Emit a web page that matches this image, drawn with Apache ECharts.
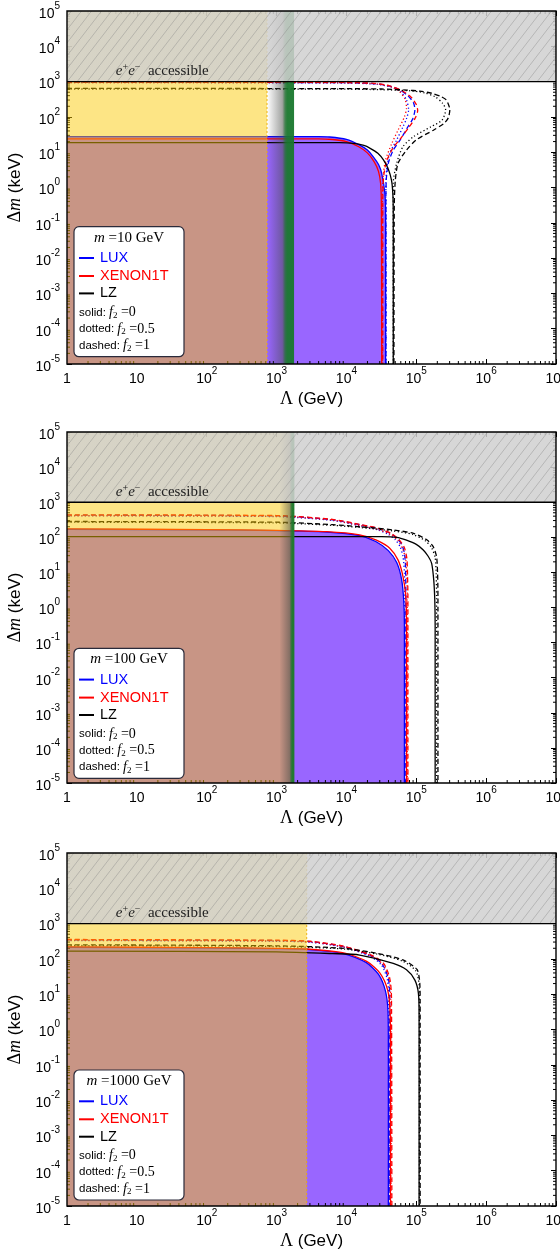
<!DOCTYPE html>
<html><head><meta charset="utf-8">
<script src="https://cdn.jsdelivr.net/npm/echarts@6/dist/echarts.min.js"></script>
<style>html,body{margin:0;padding:0;background:#fff}#c{width:560px;height:1255px}</style>
</head><body><div id="c"></div>
<script>
// ---------------- DATA ----------------
const panelMasses = [10, 100, 1000];           // m (GeV) for each panel
const xTickExponents = [0,1,2,3,4,5,6,7];      // Λ ticks 10^n GeV
const yTickExponents = [-5,-4,-3,-2,-1,0,1,2,3,4,5]; // Δm ticks 10^n keV
const accessibleDeltaM = 1000;                 // keV: e+e- accessible above this
const accessibleLabelAt = [5, 5, 5];           // Λ (GeV) where label starts
const yellowEdge = [730, 1750, 2700];          // GeV, right edge of yellow region
const lhcBand = [[730, 1320, 1780], [1100, 1620, 1800], null]; // GeV: fade start, green start, green end

// curves: [log10(Λ/GeV), log10(Δm/keV)], one list per panel (m=10, 100, 1000)
const LUX_solid_log10 = [
 [[0,1.44],[3.6,1.44],[3.76,1.43],[4.0,1.36],[4.19,1.20],[4.30,1.06],[4.385,0.87],[4.46,0.65],[4.505,0.40],[4.55,-0.16],[4.56,-0.8],[4.56,-5]],
 [[0,2.23],[2,2.21],[3,2.19],[3.72,2.15],[4.19,2.05],[4.42,1.88],[4.60,1.62],[4.72,1.28],[4.79,0.80],[4.82,0.2],[4.83,-0.5],[4.83,-5]],
 [[0,2.33],[2,2.31],[3,2.29],[3.43,2.27],[3.96,2.15],[4.28,1.90],[4.46,1.56],[4.56,1.08],[4.595,0.5],[4.60,-0.5],[4.60,-5]]
];
const XENON1T_solid_log10 = [
 [[0,1.38],[3.6,1.38],[3.8,1.36],[4.0,1.30],[4.17,1.16],[4.30,0.98],[4.40,0.72],[4.46,0.45],[4.49,0.1],[4.50,-0.5],[4.505,-5]],
 [[0,2.24],[2,2.22],[3,2.20],[3.72,2.16],[4.19,2.07],[4.43,1.92],[4.62,1.69],[4.74,1.35],[4.81,0.88],[4.85,0.3],[4.86,-0.5],[4.86,-5]],
 [[0,2.34],[2,2.32],[3,2.30],[3.43,2.28],[3.96,2.17],[4.29,1.93],[4.48,1.60],[4.59,1.12],[4.625,0.5],[4.63,-0.5],[4.63,-5]]
];
const LZ_solid_log10 = [
 [[0,1.27],[3.9,1.27],[4.1,1.25],[4.25,1.19],[4.34,1.11],[4.45,0.97],[4.53,0.78],[4.60,0.52],[4.645,0.21],[4.665,-0.2],[4.67,-0.8],[4.67,-5]],
 [[0,2.02],[4.5,2.02],[4.72,2.00],[4.86,1.92],[5.0,1.80],[5.10,1.64],[5.17,1.46],[5.22,1.26],[5.25,0.78],[5.265,0.2],[5.27,-0.5],[5.27,-5]],
 [[0,2.22],[3,2.20],[3.8,2.15],[4.19,2.11],[4.67,1.87],[4.86,1.69],[4.98,1.40],[5.03,1.03],[5.04,0.4],[5.04,-5]]
];
const LUX_dotted_log10 = [
 [[0,2.97],[4.0,2.96],[4.45,2.92],[4.65,2.84],[4.77,2.72],[4.86,2.48],[4.89,2.20],[4.86,1.95],[4.81,1.72],[4.72,1.35],[4.62,0.97],[4.575,0.50],[4.565,0],[4.565,-5]],
 [[0,2.61],[3,2.59],[3.8,2.48],[4.19,2.33],[4.45,2.21],[4.60,2.08],[4.70,1.93],[4.77,1.72],[4.81,1.45],[4.83,1.0],[4.835,0.3],[4.835,-5]],
 [[0,2.52],[3,2.50],[3.48,2.47],[3.96,2.33],[4.33,2.08],[4.50,1.83],[4.585,1.42],[4.605,0.9],[4.61,-5]]
];
const XENON1T_dotted_log10 = [
 [[0,2.975],[4.0,2.965],[4.45,2.93],[4.64,2.85],[4.75,2.74],[4.84,2.50],[4.86,2.25],[4.83,2.00],[4.74,1.63],[4.65,1.25],[4.56,0.78],[4.525,0.3],[4.515,-0.3],[4.515,-5]],
 [[0,2.62],[3,2.60],[3.8,2.49],[4.19,2.34],[4.46,2.22],[4.63,2.08],[4.74,1.90],[4.81,1.65],[4.85,1.35],[4.865,0.9],[4.87,0.3],[4.87,-5]],
 [[0,2.53],[3,2.51],[3.48,2.48],[3.96,2.34],[4.34,2.10],[4.52,1.85],[4.61,1.42],[4.635,0.9],[4.64,-5]]
];
const LZ_dotted_log10 = [
 [[0,2.79],[4.0,2.785],[4.5,2.77],[4.91,2.74],[5.12,2.68],[5.27,2.57],[5.38,2.38],[5.42,2.20],[5.37,1.91],[5.21,1.72],[4.96,1.44],[4.81,1.16],[4.72,0.69],[4.67,0.12],[4.67,-5]],
 [[0,2.43],[3,2.41],[3.8,2.34],[4.19,2.28],[4.67,2.18],[4.95,2.08],[5.13,1.90],[5.22,1.70],[5.27,1.42],[5.285,0.95],[5.29,0.3],[5.29,-5]],
 [[0,2.38],[3,2.35],[3.96,2.28],[4.43,2.14],[4.80,1.94],[4.99,1.67],[5.04,1.28],[5.045,0.8],[5.045,-5]]
];
const LUX_dashed_log10 = [
 [[0,2.98],[4.0,2.97],[4.4,2.94],[4.6,2.88],[4.75,2.78],[4.88,2.60],[4.96,2.40],[4.98,2.20],[4.95,1.95],[4.88,1.72],[4.77,1.35],[4.67,1.06],[4.60,0.69],[4.57,0.21],[4.565,-0.5],[4.565,-5]],
 [[0,2.63],[3,2.61],[3.8,2.50],[4.19,2.36],[4.45,2.25],[4.62,2.12],[4.72,1.98],[4.79,1.80],[4.83,1.55],[4.845,1.2],[4.85,0.6],[4.85,-5]],
 [[0,2.54],[3,2.52],[3.48,2.49],[3.96,2.35],[4.34,2.10],[4.51,1.86],[4.60,1.45],[4.62,0.9],[4.62,-5]]
];
const XENON1T_dashed_log10 = [
 [[0,2.985],[4.0,2.975],[4.4,2.95],[4.62,2.88],[4.78,2.76],[4.93,2.55],[5.00,2.35],[5.02,2.18],[4.98,1.95],[4.90,1.72],[4.78,1.40],[4.66,1.10],[4.57,0.72],[4.53,0.25],[4.52,-0.5],[4.52,-5]],
 [[0,2.64],[3,2.62],[3.8,2.51],[4.19,2.37],[4.47,2.25],[4.65,2.10],[4.76,1.92],[4.83,1.70],[4.865,1.40],[4.875,0.9],[4.88,0.3],[4.88,-5]],
 [[0,2.55],[3,2.53],[3.48,2.50],[3.96,2.36],[4.34,2.12],[4.53,1.88],[4.62,1.45],[4.645,0.9],[4.65,-5]]
];
const LZ_dashed_log10 = [
 [[0,2.81],[4.0,2.80],[4.5,2.79],[4.86,2.76],[5.05,2.73],[5.22,2.67],[5.35,2.58],[5.43,2.48],[5.48,2.20],[5.46,1.98],[5.40,1.82],[5.25,1.63],[5.0,1.35],[4.86,1.06],[4.74,0.69],[4.70,0.21],[4.685,-0.5],[4.68,-5]],
 [[0,2.45],[3,2.43],[3.8,2.36],[4.19,2.30],[4.67,2.21],[4.96,2.11],[5.15,1.93],[5.24,1.74],[5.29,1.45],[5.305,0.97],[5.31,0.3],[5.31,-5]],
 [[0,2.40],[3,2.37],[3.96,2.30],[4.43,2.16],[4.81,1.97],[5.01,1.70],[5.05,1.31],[5.055,0.8],[5.055,-5]]
];

// ---------------- BUILD ----------------
const P = v => Math.pow(10, v);
const toVals = arr => arr.map(p => [P(p[0]), P(p[1])]);
const XMIN = P(xTickExponents[0]), XMAX = P(xTickExponents[xTickExponents.length-1]);
const YMIN = P(yTickExponents[0]), YMAX = P(yTickExponents[yTickExponents.length-1]);

const experiments = [
  {name:'LUX', color:'#0000ff', solid:LUX_solid_log10, dotted:LUX_dotted_log10, dashed:LUX_dashed_log10},
  {name:'XENON1T', color:'#ff0000', solid:XENON1T_solid_log10, dotted:XENON1T_dotted_log10, dashed:XENON1T_dashed_log10},
  {name:'LZ', color:'#000000', solid:LZ_solid_log10, dotted:LZ_dotted_log10, dashed:LZ_dashed_log10}
];
const dashStyles = {solid:'solid', dotted:[1.2,2.4], dashed:[5,3]};

const gridBoxes = [
  {left:67, top:11, width:489, height:353},
  {left:67, top:432, width:489, height:351},
  {left:67, top:853, width:489, height:353}
];
const legendTops = [226.7, 648.3, 1070];

const SANS = 'Liberation Sans', SERIF = 'Liberation Serif';
const labRich = {
  b:{fontFamily:SANS, fontSize:14, lineHeight:20, verticalAlign:'bottom', color:'#000'},
  s:{fontFamily:SANS, fontSize:10, lineHeight:8, verticalAlign:'top', color:'#000'}
};
function expOf(v){ return Math.round(Math.log10(v)); }
function xLab(v){ const e = expOf(v); if (e===0) return '{b|1}'; if (e===1) return '{b|10}'; return '{b|10}{s|'+e+'}'; }
function yLab(v){ const e = expOf(v); return '{b|10}{s|'+e+'}'; }

function hatchCanvas(){
  const c = document.createElement('canvas'); c.width = 10; c.height = 13;
  const g = c.getContext('2d');
  g.fillStyle = 'rgba(209,209,209,0.86)'; g.fillRect(0,0,10,13);
  g.strokeStyle = 'rgba(135,135,135,0.6)'; g.lineWidth = 0.7;
  g.beginPath(); g.moveTo(-1,14.3); g.lineTo(11,-1.3); g.stroke();
  return c;
}
const hatch = {image: hatchCanvas(), repeat: 'repeat'};

function box(api){
  const p0 = api.coord([api.value(0), api.value(1)]);
  const p1 = api.coord([api.value(2), api.value(3)]);
  return {x:Math.min(p0[0],p1[0]), y:Math.min(p0[1],p1[1]), w:Math.abs(p1[0]-p0[0]), h:Math.abs(p1[1]-p0[1])};
}

const minorTickData = [];
for (let d = xTickExponents[0]; d < xTickExponents[xTickExponents.length-1]; d++)
  for (let k = 2; k <= 9; k++) minorTickData.push([k*P(d), YMIN, 0]);
for (let d = yTickExponents[0]; d < yTickExponents[yTickExponents.length-1]; d++)
  for (let k = 2; k <= 9; k++) minorTickData.push([XMIN, k*P(d), 1]);

const grid = [], xAxis = [], yAxis = [], series = [], graphic = [];

gridBoxes.forEach((g, i) => {
  grid.push(Object.assign({containLabel:false, outerBoundsMode:'none'}, g));
  const tick = {show:true, inside:true, length:5, lineStyle:{color:'#000', width:1}};
  xAxis.push({type:'log', logBase:10, gridIndex:i, position:'bottom', min:XMIN, max:XMAX, interval:1,
    axisLine:{show:false}, axisTick:tick, splitLine:{show:false}, minorTick:{show:false},
    axisLabel:{formatter:xLab, rich:labRich, margin:2, showMinLabel:true, showMaxLabel:true, alignMinLabel:'center', alignMaxLabel:'center'},
    name:'{g|Λ}{s| (GeV)}', nameLocation:'middle', nameGap:26,
    nameTextStyle:{rich:{g:{fontFamily:SERIF, fontSize:18, color:'#000'}, s:{fontFamily:SANS, fontSize:17, color:'#000'}}}});
  xAxis.push({type:'log', logBase:10, gridIndex:i, position:'top', min:XMIN, max:XMAX, interval:1,
    axisLine:{show:false}, axisTick:tick, splitLine:{show:false}, axisLabel:{show:false}});
  yAxis.push({type:'log', logBase:10, gridIndex:i, position:'left', min:YMIN, max:YMAX, interval:1,
    axisLine:{show:false}, axisTick:tick, splitLine:{show:false},
    axisLabel:{formatter:yLab, rich:labRich, margin:7, showMinLabel:true, showMaxLabel:true},
    name:'{g|Δ}{i|m}{s| (keV)}', nameLocation:'middle', nameGap:40, nameRotate:90,
    nameTextStyle:{rich:{g:{fontFamily:SERIF, fontSize:18, color:'#000'}, i:{fontFamily:SERIF, fontStyle:'italic', fontSize:18, color:'#000'}, s:{fontFamily:SANS, fontSize:17, color:'#000'}}}});
  yAxis.push({type:'log', logBase:10, gridIndex:i, position:'right', min:YMIN, max:YMAX, interval:1,
    axisLine:{show:false}, axisTick:tick, splitLine:{show:false}, axisLabel:{show:false}});
  const xi = 2*i, yi = 2*i;

  // purple region under LUX solid curve
  series.push({type:'line', xAxisIndex:xi, yAxisIndex:yi, z:1, silent:true, smooth:0.25,
    symbol:'none', data:toVals(experiments[0].solid[i]), lineStyle:{width:0},
    areaStyle:{color:'#9966ff', opacity:1, origin:'start'}});

  // minor ticks
  series.push({type:'custom', xAxisIndex:xi, yAxisIndex:yi, z:2, silent:true,
    dimensions:['x','y','k'], encode:{x:0, y:1}, data:minorTickData,
    renderItem:(params, api) => {
      const kind = api.value(2);
      const st = {stroke:'#000', lineWidth:1};
      if (kind === 0) {
        const v = api.value(0), pb = api.coord([v, YMIN]), pt = api.coord([v, YMAX]);
        return {type:'group', children:[
          {type:'line', shape:{x1:pb[0], y1:pb[1], x2:pb[0], y2:pb[1]-3}, style:st},
          {type:'line', shape:{x1:pt[0], y1:pt[1], x2:pt[0], y2:pt[1]+3}, style:st}]};
      }
      const v = api.value(1), pl = api.coord([XMIN, v]), pr = api.coord([XMAX, v]);
      return {type:'group', children:[
        {type:'line', shape:{x1:pl[0], y1:pl[1], x2:pl[0]+3, y2:pl[1]}, style:st},
        {type:'line', shape:{x1:pr[0], y1:pr[1], x2:pr[0]-3, y2:pr[1]}, style:st}]};
    }});

  // exclusion curves
  experiments.forEach(ex => {
    ['dashed','dotted','solid'].forEach(sty => {
      series.push({type:'line', name:ex.name, xAxisIndex:xi, yAxisIndex:yi, z:3, silent:true,
        smooth:0.25, symbol:'none', showSymbol:false, data:toVals(ex[sty][i]),
        lineStyle:{color:ex.color, width:1.3, type:dashStyles[sty]}});
    });
  });

  // yellow region
  series.push({type:'custom', xAxisIndex:xi, yAxisIndex:yi, z:4, silent:true,
    encode:{x:[0,2], y:[1,3]}, data:[[XMIN, YMIN, yellowEdge[i], YMAX]],
    renderItem:(params, api) => {
      const b = box(api);
      return {type:'group', children:[
        {type:'rect', shape:{x:b.x, y:b.y, width:b.w, height:b.h}, style:{fill:'rgba(250,200,0,0.48)'}},
        {type:'line', shape:{x1:b.x+b.w, y1:b.y, x2:b.x+b.w, y2:b.y+b.h}, style:{stroke:'rgba(235,175,0,0.9)', lineWidth:1, lineDash:[2,2]}}]};
    }});

  // collider band (fade + green)
  if (lhcBand[i]) {
    const bd = lhcBand[i];
    series.push({type:'custom', xAxisIndex:xi, yAxisIndex:yi, z:5, silent:true,
      encode:{x:[0,2], y:[1,3]}, data:[[bd[0], YMIN, bd[2], YMAX, bd[1]]],
      renderItem:(params, api) => {
        const b = box(api);
        const gx = api.coord([api.value(4), YMIN])[0];
        const r = Math.max(0.01, Math.min(0.99, (gx - b.x) / b.w));
        return {type:'rect', shape:{x:b.x, y:b.y, width:b.w, height:b.h},
          style:{fill:{type:'linear', x:0, y:0, x2:1, y2:0, colorStops:[
            {offset:0, color:'rgba(70,70,70,0)'},
            {offset:r*0.85, color:'rgba(70,75,70,0.5)'},
            {offset:r, color:'rgba(35,110,50,0.85)'},
            {offset:Math.min(1, r+0.08), color:'rgba(25,120,45,0.95)'},
            {offset:1, color:'rgba(25,120,45,0.95)'}]}}};
      }});
  }

  // e+e- accessible region (hatched)
  series.push({type:'custom', xAxisIndex:xi, yAxisIndex:yi, z:6, silent:true,
    encode:{x:[0,2], y:[1,3]}, data:[[XMIN, accessibleDeltaM, XMAX, YMAX, accessibleLabelAt[i]]],
    renderItem:(params, api) => {
      const b = box(api);
      const tp = api.coord([api.value(4), accessibleDeltaM]);
      return {type:'group', children:[
        {type:'rect', shape:{x:b.x, y:b.y, width:b.w, height:b.h}, style:{fill:hatch}},
        {type:'line', shape:{x1:b.x, y1:b.y+b.h, x2:b.x+b.w, y2:b.y+b.h}, style:{stroke:'#000', lineWidth:1.4}},
        {type:'text', x:tp[0], y:tp[1]-3, style:{text:'{i|e}{p|+}{i|e}{p|−}{r|  accessible}',
          align:'left', verticalAlign:'bottom',
          rich:{i:{fontFamily:SERIF, fontStyle:'italic', fontSize:15, lineHeight:16, verticalAlign:'bottom', fill:'#222'},
                p:{fontFamily:SERIF, fontSize:10, lineHeight:8, verticalAlign:'top', fill:'#222'},
                r:{fontFamily:SERIF, fontSize:15, lineHeight:16, verticalAlign:'bottom', fill:'#222'}}}}]};
    }});

  // frame
  series.push({type:'custom', xAxisIndex:xi, yAxisIndex:yi, z:10, silent:true,
    encode:{x:[0,2], y:[1,3]}, data:[[XMIN, YMIN, XMAX, YMAX]],
    renderItem:(params, api) => {
      const b = box(api);
      return {type:'rect', shape:{x:b.x, y:b.y, width:b.w, height:b.h}, style:{fill:'none', stroke:'#000', lineWidth:1.4}};
    }});

  // legend box
  const x0 = 74, w = 110, h = 130, top = legendTops[i];
  const Z = 100;
  graphic.push({type:'rect', z:Z, shape:{x:x0, y:top, width:w, height:h, r:5}, style:{fill:'#fff', stroke:'#2a2a3a', lineWidth:1.2}});
  graphic.push({type:'text', z:Z+1, x:x0+w/2, y:top+11, style:{text:'{i|m}{r| ='+panelMasses[i]+' GeV}', align:'center', verticalAlign:'middle',
    rich:{i:{fontFamily:SERIF, fontStyle:'italic', fontSize:15, fill:'#000'}, r:{fontFamily:SERIF, fontSize:15, fill:'#000'}}}});
  const ey = [31.3, 49.3, 66.7];
  experiments.forEach((ex, k) => {
    graphic.push({type:'line', z:Z+1, shape:{x1:x0+5, y1:top+ey[k], x2:x0+20, y2:top+ey[k]}, style:{stroke:ex.color, lineWidth:2}});
    graphic.push({type:'text', z:Z+1, x:x0+26, y:top+ey[k], style:{text:ex.name, fontFamily:SANS, fontSize:14.5, fill:ex.color, align:'left', verticalAlign:'middle'}});
  });
  const notes = [['solid:', '0'], ['dotted:', '0.5'], ['dashed:', '1']];
  const ny = [85.7, 102.3, 119];
  notes.forEach((n, k) => {
    graphic.push({type:'text', z:Z+1, x:x0+5, y:top+ny[k], style:{text:'{s|'+n[0]+' }{f|f}{sub|2}{r| =}{n|'+n[1]+'}', align:'left', verticalAlign:'middle',
      rich:{s:{fontFamily:SANS, fontSize:11.5, lineHeight:15, fill:'#000'},
            f:{fontFamily:SERIF, fontStyle:'italic', fontSize:14, lineHeight:15, fill:'#000'},
            sub:{fontFamily:SERIF, fontSize:9, lineHeight:6, verticalAlign:'bottom', fill:'#000'},
            r:{fontFamily:SERIF, fontSize:14, lineHeight:15, fill:'#000'},
            n:{fontFamily:SERIF, fontSize:14, lineHeight:15, fill:'#000'}}}});
  });
});

const chart = echarts.init(document.getElementById('c'), null, {renderer:'canvas', width:560, height:1255});
chart.setOption({animation:false, backgroundColor:'#fff', grid, xAxis, yAxis, series, graphic});
</script></body></html>
